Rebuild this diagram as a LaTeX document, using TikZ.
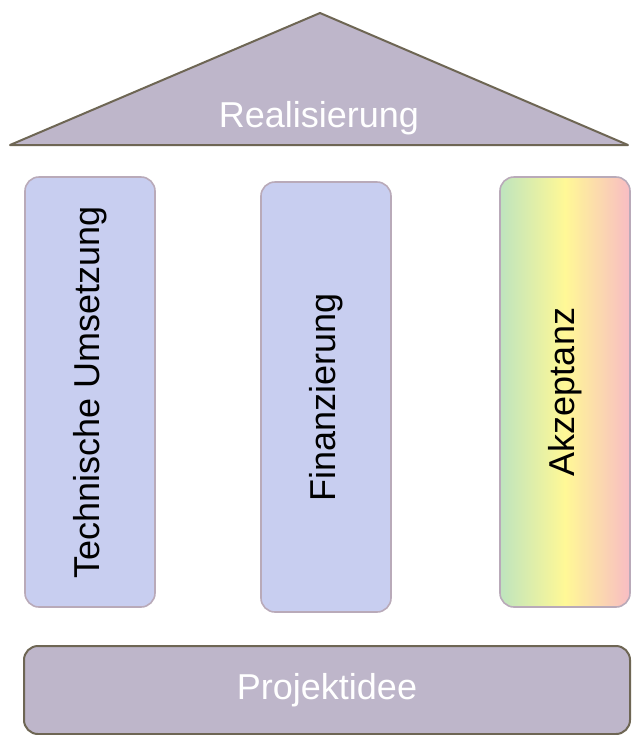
\documentclass[tikz,border=0pt]{standalone}
\usepackage{fontspec}
\setmainfont{Liberation Sans}
\usetikzlibrary{positioning}
\definecolor{roofgray}{RGB}{190,182,202}
\definecolor{roofline}{RGB}{110,102,84}
\definecolor{pillarblue}{RGB}{200,206,240}
\definecolor{pillarline}{RGB}{185,170,185}
\definecolor{acgreen}{RGB}{190,228,190}
\definecolor{acyellow}{RGB}{255,248,150}
\definecolor{acpink}{RGB}{248,188,196}
\tikzset{
  pillar/.style={draw=pillarline, line width=0.8pt, rounded corners=7pt,
    minimum width=65pt, minimum height=215pt, inner sep=0pt,
    fill=pillarblue, font=\fontsize{18}{20}\selectfont},
  slab/.style={draw=roofline, line width=1pt, fill=roofgray},
}
\begin{document}
\begin{tikzpicture}[x=0.5pt, y=-0.5pt]
  \useasboundingbox (0,0) rectangle (632,735);
  \fill[white] (0,0) rectangle (632,735);
  % roof
  \coordinate (Apex) at (320,13);
  \coordinate (EaveL) at (10,145);
  \coordinate (EaveR) at (628,145);
  \draw[slab, line join=round] (EaveL) -- (Apex) -- (EaveR) -- cycle;
  \node[text=white, font=\fontsize{18}{20}\selectfont] (Roof) at (319,118) {Realisierung};
  % pillars
  \node[pillar] (Tech) at (90,392) {};
  \node[rotate=90, font=\fontsize{18}{20}\selectfont] at (Tech) {Technische Umsetzung};
  \node[pillar] (Fin) at (326,397) {};
  \node[rotate=90, font=\fontsize{18}{20}\selectfont] at (Fin) {Finanzierung};
  \node[pillar, left color=acgreen, right color=acpink, middle color=acyellow] (Akz) at (565,392) {};
  \node[rotate=90, font=\fontsize{18}{20}\selectfont] at (Akz) {Akzeptanz};
  % foundation
  \node[slab, rounded corners=7pt, minimum width=303pt, minimum height=44pt,
    text=white, font=\fontsize{18}{20}\selectfont] (Idee) at (327,690) {Projektidee};
\end{tikzpicture}
\end{document}
